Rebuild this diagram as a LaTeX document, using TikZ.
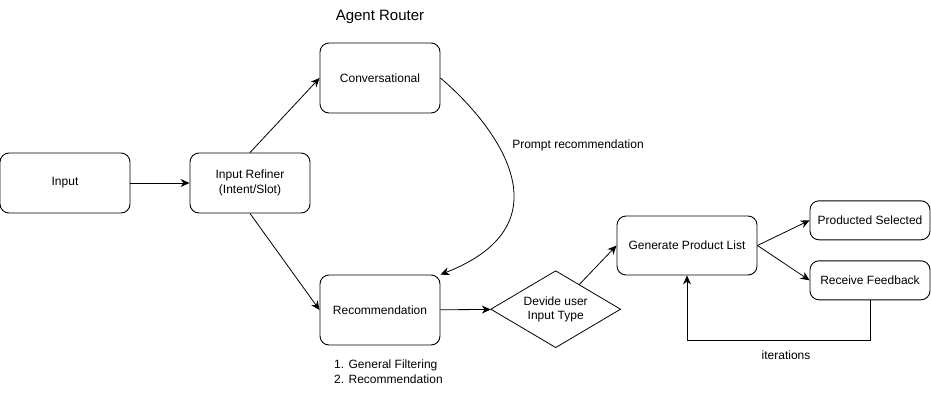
\documentclass[tikz,border=0pt]{standalone}
\usepackage{fontspec}
\setmainfont{Liberation Sans}
\usetikzlibrary{arrows.meta,shapes.geometric}
\begin{document}
\begin{tikzpicture}[x=1pt,y=-1pt,
  box/.style={draw,rounded corners=9pt,line width=0.9pt,align=center,inner sep=0pt,font=\fontsize{12}{14.5}\selectfont},
  lbl/.style={align=left,inner sep=0pt,font=\fontsize{12}{15}\selectfont},
  arr/.style={-{Stealth[length=9pt,width=8pt]},line width=0.8pt}]
\useasboundingbox (0,0) rectangle (931,410);
\node[lbl,font=\fontsize{15}{18}\selectfont] (title) at (380,17) {Agent Router};
\node[box,minimum width=130pt,minimum height=60pt] (in) at (65,183) {Input};
\node[box,minimum width=120pt,minimum height=60pt] (ir) at (250,183) {Input Refiner\\(Intent/Slot)};
\node[box,minimum width=120pt,minimum height=70pt] (cv) at (380,78) {Conversational};
\node[box,minimum width=120pt,minimum height=70pt] (rc) at (380,310) {Recommendation};
\node[draw,diamond,line width=0.8pt,aspect=1.69,minimum width=130pt,minimum height=77pt,inner sep=0pt,align=center,font=\fontsize{12}{14.5}\selectfont] (dv) at (555.7,309.2) {Devide user\\Input Type};
\node[box,minimum width=140pt,minimum height=59pt] (gp) at (687,245.5) {Generate Product List};
\node[box,minimum width=120pt,minimum height=39pt] (ps) at (870,220.3) {Producted Selected};
\node[box,minimum width=120pt,minimum height=39pt] (rf) at (870,280.3) {Receive Feedback};
\node[lbl,anchor=west] (lst) at (334,371.5) {1. General Filtering\\2. Recommendation};
\node[lbl] (prl) at (578,145) {Prompt recommendation};
\node[lbl] (itl) at (786,355.5) {iterations};
\coordinate (lp) at (870,340);
\draw[arr] (in) -- (ir);
\draw[arr] (ir.north) -- (cv.west);
\draw[arr] (ir.south) -- (rc.west);
\draw[arr] (rc) -- (dv);
\draw[arr] (cv.east) .. controls (490,120) and (575,222) .. (rc.north east);
\draw[arr] (dv) -- (gp.west);
\draw[arr] (gp.east) -- (ps.west);
\draw[arr] (gp.east) -- (rf.west);
\draw[arr] (rf.south) -- (lp) -| (gp.south);
\end{tikzpicture}
\end{document}
